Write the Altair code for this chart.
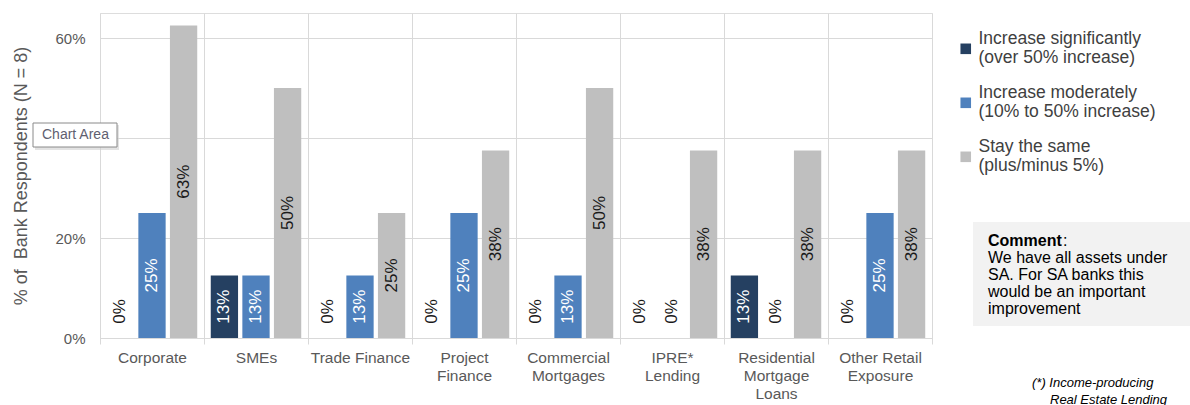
import json
import altair as alt
import pandas as pd

categories = ["Corporate", "SMEs", "Trade Finance", "Project Finance",
              "Commercial Mortgages", "IPRE* Lending",
              "Residential Mortgage Loans", "Other Retail Exposure"]
tick_labels = [["Corporate"], ["SMEs"], ["Trade Finance"], ["Project", "Finance"],
               ["Commercial", "Mortgages"], ["IPRE*", "Lending"],
               ["Residential", "Mortgage", "Loans"], ["Other Retail", "Exposure"]]

series = ["Increase significantly (over 50% increase)",
          "Increase moderately (10% to 50% increase)",
          "Stay the same (plus/minus 5%)"]
legend_labels = [["Increase significantly", "(over 50% increase)"],
                 ["Increase moderately", "(10% to 50% increase)"],
                 ["Stay the same", "(plus/minus 5%)"]]
colors = ["#254061", "#4F81BD", "#BFBFBF"]

significant = [0.0, 0.125, 0.0, 0.0, 0.0, 0.0, 0.125, 0.0]
moderate = [0.25, 0.125, 0.125, 0.25, 0.125, 0.0, 0.0, 0.25]
same = [0.625, 0.5, 0.25, 0.375, 0.5, 0.375, 0.375, 0.375]

comment_lines = ["We have all assets under", "SA. For SA banks this",
                 "would be an important", "improvement"]
footnote_line1 = "(*) Income-producing"
footnote_line2 = "Real Estate Lending"

FONT = "Liberation Sans"

rows = []
for si, (s, vals) in enumerate(zip(series, [significant, moderate, same])):
    for c, v in zip(categories, vals):
        rows.append({
            "category": c,
            "series": s,
            "value": v,
            "label": f"{int(v * 100 + 0.5)}%",
            "labelpos": v / 2 if v > 0 else 0.053,
            "tcolor": "white" if (v > 0 and si < 2) else "#1a1a1a",
        })
df = pd.DataFrame(rows)

x_label_expr = json.dumps(dict(zip(categories, tick_labels))) + "[datum.value]"
legend_label_expr = json.dumps(dict(zip(series, legend_labels))) + "[datum.value]"

x_enc = alt.X("category:N", sort=categories, title=None,
              scale=alt.Scale(paddingInner=0, paddingOuter=0),
              axis=alt.Axis(labelExpr=x_label_expr, labelAngle=0, labelFontSize=15.5,
                            labelColor="#595959", labelLineHeight=18, labelPadding=6,
                            labelBaseline="top", tickBand="extent", grid=True,
                            gridColor="#D9D9D9", domainColor="#D9D9D9",
                            tickColor="#D9D9D9", tickSize=6, labelLimit=200,
                            labelFont=FONT))
xo_enc = alt.XOffset("series:N", sort=series,
                     scale=alt.Scale(paddingInner=0.136, paddingOuter=0.214))
y_scale = alt.Scale(domain=[0, 0.65], nice=False)

bars = alt.Chart(df).mark_bar().encode(
    x=x_enc,
    xOffset=xo_enc,
    y=alt.Y("value:Q", scale=y_scale,
            axis=alt.Axis(values=[0, 0.2, 0.4, 0.6], format=".0%",
                          title="% of\u00a0 Bank Respondents (N = 8)", titleFontSize=18,
                          titleFontWeight="normal", titleColor="#595959",
                          titleFont=FONT, labelFont=FONT,
                          labelFontSize=15, labelColor="#595959", domain=False,
                          ticks=False, gridColor="#D9D9D9", labelPadding=15,
                          titlePadding=24)),
    color=alt.Color("series:N", sort=series,
                    scale=alt.Scale(domain=series, range=colors),
                    legend=alt.Legend(orient="none", legendX=857, legendY=17,
                                      title=None, labelExpr=legend_label_expr,
                                      labelFontSize=17.5, labelColor="#404040",
                                      labelFont=FONT,
                                      symbolType="M-1,0.9H1V2.9H-1Z",
                                      symbolSize=112, rowPadding=16, labelLimit=300,
                                      symbolStrokeWidth=0, labelOffset=4)),
)

texts = alt.Chart(df).mark_text(angle=270, fontSize=17, font=FONT).encode(
    x=alt.X("category:N", sort=categories),
    xOffset=xo_enc,
    y=alt.Y("labelpos:Q", scale=y_scale),
    text="label:N",
    color=alt.Color("tcolor:N", scale=None),
)

one = pd.DataFrame({"a": [0]})

comment_box = alt.Chart(one).mark_rect(fill="#F2F2F2").encode(
    x=alt.value(873), x2=alt.value(1090), y=alt.value(209), y2=alt.value(313))
comment_head = alt.Chart(one).mark_text(
    text="Comment", fontWeight="bold", fontSize=16, font=FONT, align="left",
    baseline="alphabetic", color="#000000").encode(x=alt.value(888), y=alt.value(233))
comment_colon = alt.Chart(one).mark_text(
    text=":", fontSize=16, font=FONT, align="left", baseline="alphabetic",
    color="#000000").encode(x=alt.value(963), y=alt.value(233))
comment_body = alt.Chart(one).mark_text(
    text=comment_lines, fontSize=16, font=FONT, align="left", baseline="alphabetic",
    lineHeight=17, color="#000000").encode(x=alt.value(888), y=alt.value(250))

foot1 = alt.Chart(one).mark_text(
    text=footnote_line1, fontSize=13, font=FONT, fontStyle="italic", align="left",
    baseline="alphabetic", color="#000000").encode(x=alt.value(932), y=alt.value(374))
foot2 = alt.Chart(one).mark_text(
    text=footnote_line2, fontSize=13, font=FONT, fontStyle="italic", align="left",
    baseline="alphabetic", color="#000000").encode(x=alt.value(950), y=alt.value(391))

tip_shadow = alt.Chart(one).mark_rect(fill="#d0d0d0", opacity=0.6).encode(
    x=alt.value(-65), x2=alt.value(19), y=alt.value(112), y2=alt.value(137))
tip_box = alt.Chart(one).mark_rect(fill="white", stroke="#8a8a8a", strokeWidth=1).encode(
    x=alt.value(-67), x2=alt.value(17), y=alt.value(110), y2=alt.value(134))
tip_text = alt.Chart(one).mark_text(
    text="Chart Area", fontSize=14, font=FONT, align="left", baseline="middle",
    color="#5f6070").encode(x=alt.value(-58), y=alt.value(122))

chart = alt.layer(
    bars, texts, comment_box, comment_head, comment_colon, comment_body, foot1, foot2,
    tip_shadow, tip_box, tip_text
).properties(
    width=832, height=325,
    padding={"left": 12, "top": 13, "right": 0, "bottom": 0},
).configure_view(stroke=None).configure(font=FONT, background="white")

chart.save("out.html", embed_options={"renderer": "svg", "actions": False})
